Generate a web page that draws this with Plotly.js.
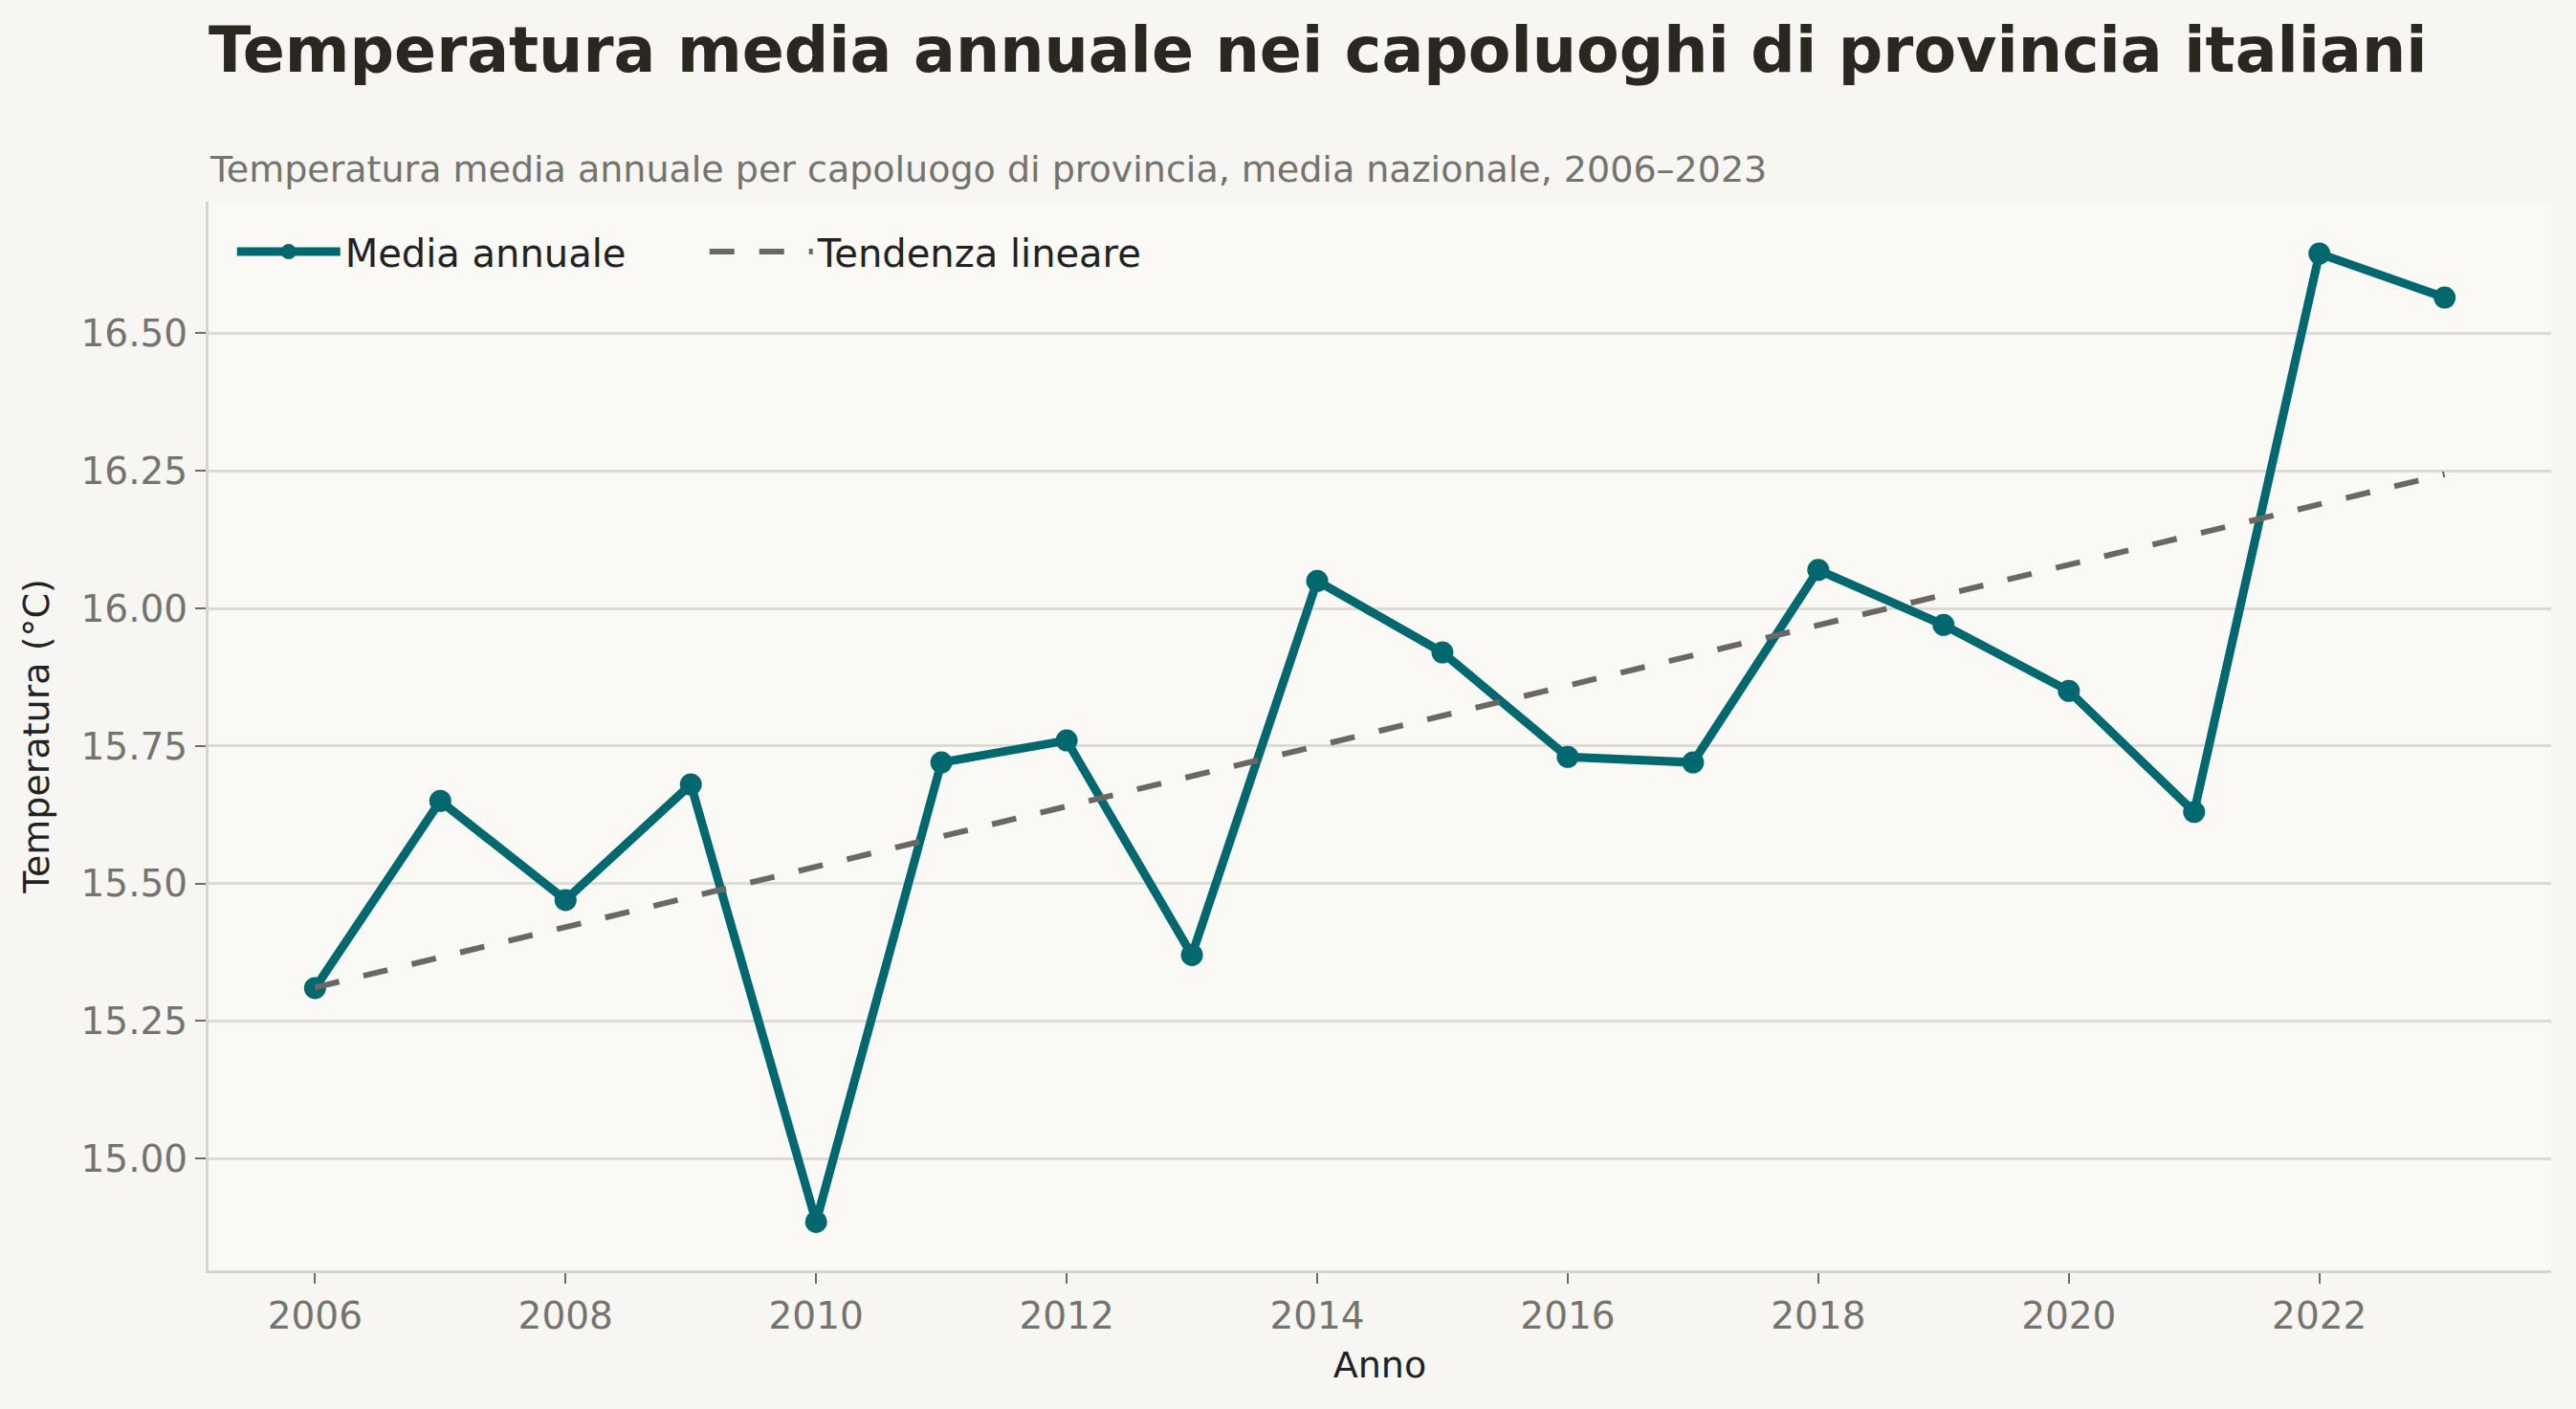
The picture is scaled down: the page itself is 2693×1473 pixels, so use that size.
<!DOCTYPE html>
<html>
<head>
<meta charset="utf-8">
<script src="https://cdn.plot.ly/plotly-3.0.1.min.js"></script>
<style>
html, body { margin: 0; padding: 0; background: #f7f6f2; }
#chart { width: 2693px; height: 1473px; }
</style>
</head>
<body>
<div id="chart"></div>
<script>
// anni e temperatura media annuale (°C)
let anni = [2006, 2007, 2008, 2009, 2010, 2011, 2012, 2013, 2014, 2015, 2016, 2017, 2018, 2019, 2020, 2021, 2022, 2023]
let temperatura = [15.31, 15.65, 15.47, 15.68, 14.885, 15.72, 15.76, 15.37, 16.05, 15.92, 15.73, 15.72, 16.07, 15.97, 15.85, 15.63, 16.645, 16.565]
let yTicks = [15.00, 15.25, 15.50, 15.75, 16.00, 16.25, 16.50]
let xTicks = [2006, 2008, 2010, 2012, 2014, 2016, 2018, 2020, 2022]

// tendenza lineare (minimi quadrati) calcolata dai dati
function trend(xs, ys){
  let n = xs.length
  let mx = xs.reduce((a, b) => a + b, 0) / n
  let my = ys.reduce((a, b) => a + b, 0) / n
  let num = 0, den = 0
  for (let i = 0; i < n; i++) {
    num += (xs[i] - mx) * (ys[i] - my)
    den += (xs[i] - mx) * (xs[i] - mx)
  }
  let b = num / den
  return xs.map(x => my + b * (x - mx))
}

let font = "DejaVu Sans, Verdana, sans-serif"

let media = {
  x: anni,
  y: temperatura,
  name: "Media annuale",
  type: "scatter",
  mode: "lines+markers",
  line: { color: "#00686e", width: 9 },
  marker: { color: "#00686e", size: 23 }
}

let tendenza = {
  x: anni,
  y: trend(anni, temperatura),
  name: "Tendenza lineare",
  type: "scatter",
  mode: "lines",
  line: { color: "#6a6863", width: 6, dash: "26px,26px" }
}

let layout = {
  width: 2693,
  height: 1473,
  paper_bgcolor: "#f7f6f2",
  plot_bgcolor: "#faf9f6",
  margin: { l: 218, r: 26, t: 211, b: 145 },
  font: { family: font, size: 38, color: "#222222" },
  title: {
    text: "<b>Temperatura media annuale nei capoluoghi di provincia italiani</b>",
    font: { family: font, size: 65, color: "#29271f" },
    xref: "container", x: 218 / 2693, xanchor: "left",
    yref: "container", y: 1 - 29 / 1473, yanchor: "top"
  },
  annotations: [{
    text: "Temperatura media annuale per capoluogo di provincia, media nazionale, 2006–2023",
    xref: "paper", x: 0, xanchor: "left",
    yref: "paper", y: 1.01, yanchor: "bottom",
    showarrow: false, borderpad: 0,
    font: { family: font, size: 38, color: "#75736e" }
  }],
  xaxis: {
    range: [2005.15, 2023.85],
    tickvals: xTicks,
    ticks: "outside", ticklen: 11, tickwidth: 2, tickcolor: "#6e6c68",
    tickfont: { family: font, size: 39, color: "#75736e" },
    showgrid: false, zeroline: false,
    showline: true, linecolor: "#d6d4cf", linewidth: 3,
    title: { text: "Anno", font: { family: font, size: 38, color: "#222222" }, standoff: 17 }
  },
  yaxis: {
    range: [14.797, 16.739],
    tickvals: yTicks,
    tickformat: ".2f",
    ticks: "outside", ticklen: 11, tickwidth: 2, tickcolor: "#6e6c68",
    tickfont: { family: font, size: 39, color: "#75736e" },
    showgrid: true, gridcolor: "#dddbd6", gridwidth: 2.5,
    zeroline: false,
    showline: true, linecolor: "#d6d4cf", linewidth: 3,
    title: { text: "Temperatura (°C)", font: { family: font, size: 38, color: "#222222" }, standoff: 22 }
  },
  showlegend: true,
  legend: {
    orientation: "h",
    x: 0.0101, xanchor: "left",
    y: 0.9825, yanchor: "top",
    bgcolor: "rgba(0,0,0,0)",
    font: { family: font, size: 40, color: "#222222" },
    itemwidth: 108,
    entrywidth: 371,
    entrywidthmode: "pixels"
  }
}

Plotly.newPlot("chart", [media, tendenza], layout, { displayModeBar: false })
</script>
</body>
</html>
